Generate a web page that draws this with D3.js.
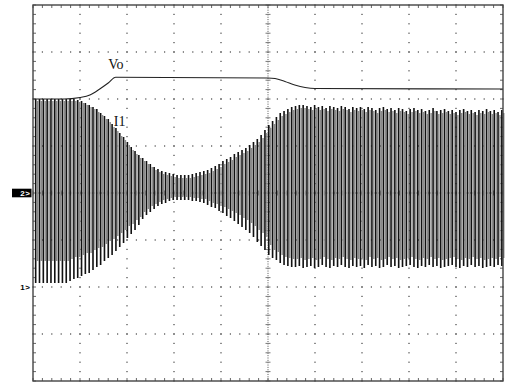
<!DOCTYPE html>
<html>
<head>
<meta charset="utf-8">
<script src="https://cdn.jsdelivr.net/npm/d3@7"></script>
<style>
  html, body { margin: 0; padding: 0; background: #fff; }
  svg { display: block; }
</style>
</head>
<body>
<script>
// Graticule: 10 horizontal x 8 vertical divisions, levels in counts (47 counts per division)
const hDivisions = 10;
const vDivisions = 8;
const countsPerDiv = 47;
const minorPerDiv = 5;

// Vo trace: time (div) and level (counts above screen centre)
const voTime  = [0, 0.66, 1.0, 1.21, 1.42, 1.6, 1.76, 5.0, 5.15, 5.36, 5.57, 5.79, 6.0, 10];
const voLevel = [94, 94, 95.5, 98, 104, 110, 115.7, 115, 114.5, 111.5, 108, 105.5, 104.5, 104];

// I1 trace: one record per switching cycle, first cycle and cycle length in div
const i1Start = 0.057;
const i1Period = 0.0813;
// falling edge peaks (dark strokes)
const i1PeakHigh = [
  94, 94, 94, 94, 94, 94, 94, 94, 94, 94, 94,
  93, 92, 90, 88, 86, 84, 80, 77, 74, 69, 65, 60, 56, 51, 46, 42, 38, 35, 32,
  29, 26, 24, 22, 21, 20, 19, 18, 18, 18, 18, 19, 20, 21, 22, 23, 25, 27, 29, 32,
  34, 36, 39, 41, 43, 45, 48, 51, 54, 58, 63, 68, 72, 76, 80, 82, 84, 86, 87, 88, 88,
  87, 86, 88, 86, 87, 85, 87, 86, 85, 87, 86, 84, 86, 85, 86,
  84, 86, 85, 83, 85, 86, 84, 85, 83, 85, 84, 82, 84, 85, 83,
  84, 82, 83, 85, 82, 83, 84, 82, 83, 81, 83, 84, 82, 83, 81, 83, 82, 84, 82, 83, 81, 83
];
const i1PeakLow = [
  -90, -90, -90, -90, -90, -90, -90, -90, -90,
  -88, -86, -85, -83, -81, -80, -77, -74, -72, -68, -65, -62, -58, -54, -50, -45,
  -41, -37, -32, -26, -22, -19, -16, -13, -11, -10, -8, -7, -7, -7, -7, -7, -8, -8,
  -9, -10, -12, -14, -15, -18, -20, -23, -25, -28, -31, -34, -37, -40, -44, -49,
  -53, -57, -62, -65, -67, -70, -72, -73, -74,
  -74, -73, -75, -74, -73, -75, -74, -72, -74, -75,
  -73, -74, -72, -74, -75, -73, -74, -73, -75, -72,
  -74, -73, -75, -74, -72, -74, -73, -75, -74, -73,
  -72, -74, -75, -73, -74, -72, -74, -73, -75, -74,
  -73, -72, -74, -75, -73, -74, -72, -74, -73, -75,
  -74, -73, -74, -72, -73
];
// rising edge peaks (lighter strokes)
const i1EdgeHigh = [
  92, 92, 92, 92, 92, 92, 92, 92, 92, 92, 92,
  91, 90, 88, 86, 84, 81, 78, 74, 71, 66, 62, 57, 53, 48, 43, 39, 35, 32, 29,
  26, 23, 21, 19, 18, 17, 16, 15, 15, 15, 15, 16, 17, 18, 19, 20, 22, 24, 26, 29,
  31, 33, 36, 38, 40, 42, 45, 48, 51, 55, 60, 65, 69, 73, 77, 79, 81, 83, 84, 85, 85,
  84, 83, 85, 83, 84, 82, 84, 83, 82, 84, 83, 81, 83, 82, 83,
  81, 83, 82, 80, 82, 83, 81, 82, 80, 82, 81, 79, 81, 82, 80,
  81, 79, 80, 82, 79, 80, 81, 79, 80, 78, 80, 81, 79, 80, 78, 80, 79, 81, 79, 80, 78, 80
];
const i1EdgeLow = [
  -68, -68, -68, -68, -68, -68, -68, -68, -68,
  -66, -64, -64, -62, -60, -60, -57, -55, -54, -51, -48, -46, -43, -40, -37, -33,
  -31, -27, -24, -19, -16, -13, -11, -9, -7, -6, -5, -4, -4, -4, -4, -4, -5, -5,
  -6, -6, -8, -10, -11, -13, -14, -16, -18, -20, -22, -25, -27, -30, -33, -37,
  -40, -44, -52, -57, -59, -62, -64, -65, -66,
  -66, -65, -67, -66, -65, -67, -66, -64, -66, -67,
  -65, -66, -64, -66, -67, -65, -66, -65, -67, -64,
  -66, -65, -67, -66, -64, -66, -65, -67, -66, -65,
  -64, -66, -67, -65, -66, -64, -66, -65, -67, -66,
  -65, -64, -66, -67, -65, -66, -64, -66, -65, -67,
  -66, -65, -66, -64, -65
];

// Channel ground markers on the left edge
const markerLabels = ["2>", "1>"];
const markerLevels = [0, -94];

// Trace labels
const traceLabels = ["Vo", "I1"];
const traceLabelTime = [1.6, 1.72];
const traceLabelLevel = [124.5, 67.5];

const W = 505, H = 385;
const plot = { left: 33, top: 5, width: 470, height: 376 };

const svg = d3.select("body").append("svg")
  .attr("width", W).attr("height", H)
  .style("font-family", "'Liberation Sans', Arial, sans-serif");

const x = d3.scaleLinear().domain([0, hDivisions]).range([plot.left, plot.left + plot.width]);
const halfCounts = vDivisions / 2 * countsPerDiv;
const y = d3.scaleLinear().domain([-halfCounts, halfCounts]).range([plot.top + plot.height, plot.top]);

const g = svg.append("g");

// ---- graticule ----
const majorX = d3.range(1, hDivisions);
const majorY = d3.range(-vDivisions / 2 + 1, vDivisions / 2).map(d => d * countsPerDiv);
const minorX = d3.range(0, hDivisions * minorPerDiv + 1).map(i => i / minorPerDiv);
const minorY = d3.range(0, vDivisions * minorPerDiv + 1).map(i => -halfCounts + i * countsPerDiv / minorPerDiv);

const grid = g.append("g").attr("fill", "#444");
// dotted vertical division lines
majorX.filter(d => d !== hDivisions / 2).forEach(d => {
  grid.selectAll(null).data(minorY).join("rect")
    .attr("x", x(d) - 0.6).attr("y", v => y(v) - 0.6)
    .attr("width", 1.2).attr("height", 1.2);
});
// dotted horizontal division lines
majorY.filter(v => v !== 0).forEach(v => {
  grid.selectAll(null).data(minorX).join("rect")
    .attr("x", d => x(d) - 0.6).attr("y", y(v) - 0.6)
    .attr("width", 1.2).attr("height", 1.2);
});

// centre cross with fine dots and minor ticks
const cx = x(hDivisions / 2), cy = y(0);
g.append("line").attr("x1", cx).attr("x2", cx).attr("y1", y(halfCounts)).attr("y2", y(-halfCounts))
  .attr("stroke", "#555").attr("stroke-width", 1).attr("stroke-dasharray", "1,1.35");
g.append("line").attr("x1", x(0)).attr("x2", x(hDivisions)).attr("y1", cy).attr("y2", cy)
  .attr("stroke", "#555").attr("stroke-width", 1).attr("stroke-dasharray", "1,1.35");
g.append("g").selectAll("line").data(minorY).join("line")
  .attr("x1", cx - 2.5).attr("x2", cx + 2.5).attr("y1", v => y(v)).attr("y2", v => y(v))
  .attr("stroke", "#777").attr("stroke-width", 1);
g.append("g").selectAll("line").data(minorX).join("line")
  .attr("x1", d => x(d)).attr("x2", d => x(d)).attr("y1", cy - 2.5).attr("y2", cy + 2.5)
  .attr("stroke", "#777").attr("stroke-width", 1);

// border ticks
const ticks = g.append("g").attr("stroke", "#666").attr("stroke-width", 1);
ticks.selectAll(null).data(minorX).join("line")
  .attr("x1", d => x(d)).attr("x2", d => x(d)).attr("y1", y(halfCounts)).attr("y2", y(halfCounts) + 3);
ticks.selectAll(null).data(minorX).join("line")
  .attr("x1", d => x(d)).attr("x2", d => x(d)).attr("y1", y(-halfCounts)).attr("y2", y(-halfCounts) - 3);
ticks.selectAll(null).data(minorY).join("line")
  .attr("x1", x(0)).attr("x2", x(0) + 3).attr("y1", v => y(v)).attr("y2", v => y(v));
ticks.selectAll(null).data(minorY).join("line")
  .attr("x1", x(hDivisions)).attr("x2", x(hDivisions) - 3).attr("y1", v => y(v)).attr("y2", v => y(v));

// ---- I1 trace ----
const cycleTime = i => i1Start + i * i1Period;
const edgeOffset = i1Period / 2;

g.append("path")
  .attr("d", i1EdgeHigh.map((v, i) =>
    `M${x(cycleTime(i) + edgeOffset)},${y(v)}V${y(i1EdgeLow[i])}`).join(""))
  .attr("stroke", "#8a8a8a").attr("stroke-width", 1.4).attr("fill", "none");

g.append("path")
  .attr("d", i1PeakHigh.map((v, i) =>
    `M${x(cycleTime(i))},${y(v)}V${y(i1PeakLow[i])}`).join(""))
  .attr("stroke", "#111").attr("stroke-width", 1.6).attr("fill", "none");

// ---- Vo trace ----
const voLine = d3.line().x((d, i) => x(voTime[i])).y(d => y(d)).curve(d3.curveMonotoneX);
g.append("path").datum(voLevel).attr("d", voLine)
  .attr("fill", "none").attr("stroke", "#222").attr("stroke-width", 1.1);

// frame
g.append("rect")
  .attr("x", x(0)).attr("y", y(halfCounts))
  .attr("width", x(hDivisions) - x(0)).attr("height", y(-halfCounts) - y(halfCounts))
  .attr("fill", "none").attr("stroke", "#444").attr("stroke-width", 1.4);

// trace labels
g.selectAll("text.trace").data(traceLabels).join("text")
  .attr("class", "trace")
  .attr("x", (d, i) => x(traceLabelTime[i]))
  .attr("y", (d, i) => y(traceLabelLevel[i]))
  .attr("font-family", "'Liberation Serif', 'Times New Roman', serif")
  .attr("font-size", 14).attr("fill", "#111")
  .text(d => d);

// channel markers
markerLabels.forEach((label, i) => {
  const my = y(markerLevels[i]);
  if (i === 0) {
    svg.append("rect").attr("x", 12).attr("y", my - 4.3).attr("width", 19.5).attr("height", 8.6).attr("fill", "#000");
  }
  svg.append("text")
    .attr("x", 30.5).attr("y", my + 3)
    .attr("text-anchor", "end")
    .attr("font-size", 8).attr("font-weight", "bold")
    .attr("letter-spacing", 0.6)
    .attr("fill", i === 0 ? "#fff" : "#000")
    .text(label);
});
</script>
</body>
</html>
